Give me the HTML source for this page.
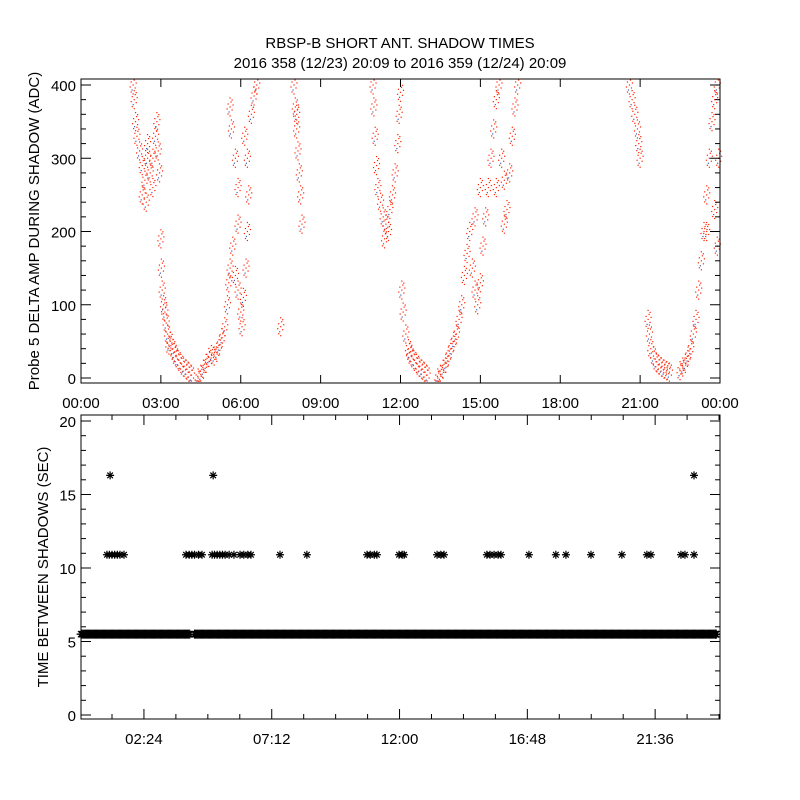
<!DOCTYPE html>
<html><head><meta charset="utf-8"><style>
body{margin:0;background:#fff}
svg{display:block;font-family:"Liberation Sans",sans-serif}
text{fill:#000;font-size:15px}
</style></head><body>
<svg id="c" width="800" height="800" viewBox="0 0 800 800">
<text x="400" y="48" text-anchor="middle">RBSP-B SHORT ANT. SHADOW TIMES</text>
<text x="400" y="68" text-anchor="middle">2016 358 (12/23) 20:09 to 2016 359 (12/24) 20:09</text>
<g id="topPanel"></g>
<g id="botPanel"></g>
</svg>
<script>
// top panel data (hours, ADC)
const topT=[1.96,2.0,2.05,2.1,2.2,2.3,2.4,2.5,2.6,2.7,2.3,2.5,2.7,2.8,2.85,2.9,2.95,2.45,
3.0,3.02,3.05,3.1,3.15,3.2,3.25,3.35,3.45,3.55,3.65,3.75,3.85,3.95,4.05,4.15,3.3,3.5,
4.4,4.5,4.6,4.7,4.8,4.9,5.0,5.1,5.2,5.3,5.4,5.5,5.55,5.6,5.7,5.8,5.9,6.0,6.05,6.1,6.2,6.25,6.3,5.65,5.8,5.9,6.15,6.25,6.4,6.5,6.6,5.6,5.9,7.5,
8.0,8.05,8.1,8.15,8.2,8.25,8.3,8.1,
10.97,11.0,11.05,11.1,11.15,11.25,11.35,11.45,11.55,11.6,11.7,11.8,11.9,11.95,12.0,11.4,
12.05,12.1,12.2,12.3,12.4,12.5,12.6,12.7,12.8,12.9,13.0,12.35,
13.4,13.5,13.6,13.7,13.8,13.9,14.0,14.1,14.2,14.3,14.4,14.5,14.6,14.7,14.8,14.9,15.0,15.1,15.2,15.3,15.4,15.5,15.6,15.7,14.8,15.0,15.6,15.8,15.9,16.0,16.1,16.2,16.3,16.4,15.9,
20.6,20.7,20.8,20.9,20.95,21.0,
21.3,21.35,21.4,21.5,21.6,21.7,21.8,21.9,22.0,22.1,
22.5,22.6,22.7,22.8,22.9,23.0,23.1,23.2,23.3,23.4,23.5,23.6,23.7,23.8,23.9,23.5,23.8,23.9,23.95];
const topV=[400,380,350,330,310,290,270,300,280,260,250,320,300,330,350,310,280,240,
190,150,120,100,90,75,60,50,40,30,25,20,15,12,8,4,45,35,
0,5,12,20,28,32,30,35,45,55,70,100,130,150,180,140,120,90,70,110,150,200,250,340,300,260,330,300,360,385,400,370,210,70,
400,370,340,310,280,250,210,360,
400,370,330,290,260,240,220,210,200,230,250,280,320,360,390,190,
120,90,60,40,30,25,20,15,12,8,4,35,
0,5,12,20,30,40,50,60,80,100,140,170,200,150,120,100,130,180,220,260,300,340,380,400,220,260,260,300,270,230,280,330,370,400,210,
400,380,360,340,320,300,
80,60,40,30,22,18,15,12,10,8,
10,15,20,30,40,60,80,120,160,200,250,300,350,380,400,200,230,180,300];
const topXTicks=["00:00","03:00","06:00","09:00","12:00","15:00","18:00","21:00","00:00"];
const topYTicks=[0,100,200,300,400];
// bottom panel data (hours, seconds)
const bandT=[[0.04,4.15],[4.3,24.04]];
const bandV=[5.5];
const midT=[1.01,1.1,1.2,1.3,1.4,1.5,1.65,3.98,4.1,4.2,4.3,4.45,4.58,4.96,5.05,5.15,5.25,5.35,5.45,5.6,5.78,6.01,6.15,6.3,6.42,7.51,8.52,10.78,10.9,11.05,11.15,11.98,12.1,12.17,13.41,13.55,13.67,15.28,15.4,15.55,15.7,15.81,16.86,17.87,18.25,19.19,20.35,21.29,21.44,22.57,22.72,23.06];
const midV=midT.map(()=>10.9);
const highT=[1.13,5.0,23.06];
const highV=[16.3,16.3,16.3];
const botXTicks=["02:24","07:12","12:00","16:48","21:36"];
const botYTicks=[0,5,10,15,20];

const NS="http://www.w3.org/2000/svg";
function mk(p,tag,at){const e=document.createElementNS(NS,tag);for(const k in at)e.setAttribute(k,at[k]);p.appendChild(e);return e;}
const L=81,R=720;
const tx=t=>L+t*(R-L)/24, ty=v=>378-v*0.7325;
const topG=document.getElementById('topPanel');
const dots=mk(topG,'g',{});


const off=[[0,0],[2,3],[-2,-3],[3,-2],[-3,2],[1,-5],[-1,5],[0,-9],[0,9],[2,-7],[-2,7]];
topT.forEach((t,i)=>{off.forEach((o,j)=>{
  let y=ty(topV[i])+o[1]; if(y<80)return; if(y>382)y=381;
  const d=mk(dots,'rect',{x:tx(t)+o[0]-0.6,y:y-0.6,width:1.2,height:1.2,fill:j%7==6?'#4060c0':'#ff2000'});
  
  
});});
const tb=mk(topG,'rect',{x:L,y:79,width:R-L,height:304,fill:'none',stroke:'#000','stroke-width':1});


for(let h=0;h<=24;h+=3){const x=tx(h);mk(topG,'line',{x1:x,y1:383,x2:x,y2:375,stroke:'#000'});mk(topG,'line',{x1:x,y1:79,x2:x,y2:87,stroke:'#000'});}
topXTicks.forEach((s,i)=>{const e=mk(topG,'text',{x:tx(i*3),y:408,'text-anchor':'middle'});e.textContent=s;

});
for(let v=0;v<=400;v+=20){const y=ty(v),len=v%100==0?10:5;mk(topG,'line',{x1:L,y1:y,x2:L+len,y2:y,stroke:'#000'});mk(topG,'line',{x1:R,y1:y,x2:R-len,y2:y,stroke:'#000'});}
topYTicks.forEach(v=>{const e=mk(topG,'text',{x:76,y:ty(v)+6,'text-anchor':'end'});e.textContent=v;

});
const yt=mk(topG,'text',{x:0,y:0,'text-anchor':'middle',transform:'translate(39,231) rotate(-90)'});yt.textContent='Probe 5 DELTA AMP DURING SHADOW (ADC)';



const T0=0.036;
const bx=t=>L+(t-T0)*(R-L)/24, by=v=>715-v*14.7;
const botG=document.getElementById('botPanel');
function star(g,x,y,s){mk(g,'path',{d:`M${x-s},${y}H${x+s}M${x},${y-s}V${y+s}M${x-s*0.7},${y-s*0.7}L${x+s*0.7},${y+s*0.7}M${x-s*0.7},${y+s*0.7}L${x+s*0.7},${y-s*0.7}`,stroke:'#000','stroke-width':1.2,fill:'none'});}
const band=mk(botG,'g',{});


bandT.forEach(seg=>{for(let t=seg[0];t<=seg[1];t+=0.04){star(band,Math.min(bx(t),716),by(bandV[0]),4.5);}});
const mid=mk(botG,'g',{});


midT.forEach((t,i)=>star(mid,bx(t),by(midV[i]),4));
const hi=mk(botG,'g',{});


highT.forEach((t,i)=>star(hi,bx(t),by(highV[i]),4));
const bb=mk(botG,'rect',{x:L,y:415,width:R-L,height:304,fill:'none',stroke:'#000','stroke-width':1});


for(let k=1;k<=20;k++){const h=k*1.2,x=bx(h);if(x>R)break;const len=k%4==2?10:5;mk(botG,'line',{x1:x,y1:719,x2:x,y2:719-len,stroke:'#000'});mk(botG,'line',{x1:x,y1:415,x2:x,y2:415+len,stroke:'#000'});}
botXTicks.forEach((s,i)=>{const e=mk(botG,'text',{x:bx(2.4+i*4.8),y:744,'text-anchor':'middle'});e.textContent=s;

});
for(let v=0;v<=20;v++){const y=by(v),len=v%5==0?10:5;mk(botG,'line',{x1:L,y1:y,x2:L+len,y2:y,stroke:'#000'});mk(botG,'line',{x1:R,y1:y,x2:R-len,y2:y,stroke:'#000'});}
botYTicks.forEach(v=>{const e=mk(botG,'text',{x:76,y:by(v)+6,'text-anchor':'end'});e.textContent=v;

});
const yb=mk(botG,'text',{x:0,y:0,'text-anchor':'middle',transform:'translate(48,567) rotate(-90)'});yb.textContent='TIME BETWEEN SHADOWS (SEC)';


</script>
</body></html>
